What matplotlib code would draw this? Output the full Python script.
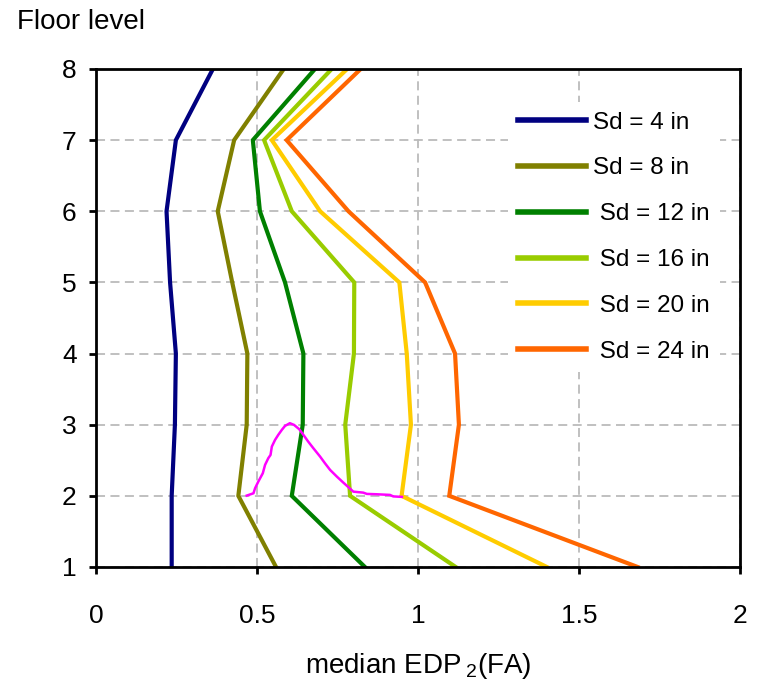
import matplotlib
matplotlib.use("Agg")
import matplotlib.pyplot as plt

plt.rcParams['font.family'] = ['Liberation Sans', 'DejaVu Sans']
plt.rcParams['mathtext.fontset'] = 'custom'
plt.rcParams['mathtext.rm'] = 'Liberation Sans'

floors = [1, 2, 3, 4, 5, 6, 7, 8]

sd_labels = ["Sd = 4 in", "Sd = 8 in", " Sd = 12 in", " Sd = 16 in", " Sd = 20 in", " Sd = 24 in"]
sd_colors = ["#000080", "#808000", "#008000", "#99cc00", "#ffcc00", "#ff6600"]

sd4 = [0.235, 0.235, 0.245, 0.248, 0.230, 0.219, 0.248, 0.363]
sd8 = [0.559, 0.442, 0.468, 0.470, 0.423, 0.378, 0.429, 0.583]
sd12 = [0.835, 0.608, 0.642, 0.644, 0.587, 0.509, 0.487, 0.680]
sd16 = [1.117, 0.789, 0.774, 0.801, 0.802, 0.608, 0.522, 0.732]
sd20 = [1.400, 0.949, 0.978, 0.965, 0.942, 0.696, 0.546, 0.780]
sd24 = [1.682, 1.097, 1.127, 1.115, 1.022, 0.784, 0.592, 0.822]

# magenta distribution curve around floors 2-3
dist_x = [0.468, 0.489, 0.494, 0.504, 0.518, 0.525, 0.535, 0.542, 0.546, 0.556,
          0.566, 0.577, 0.587, 0.602, 0.615, 0.631, 0.644, 0.659, 0.675, 0.696,
          0.711, 0.727, 0.748, 0.768, 0.784, 0.799, 0.830, 0.841, 0.872, 0.913,
          0.923, 0.950]
dist_y = [2.003, 2.036, 2.107, 2.200, 2.318, 2.435, 2.529, 2.575, 2.692, 2.786,
          2.857, 2.927, 2.983, 3.021, 2.997, 2.937, 2.857, 2.762, 2.669, 2.551,
          2.458, 2.364, 2.270, 2.186, 2.121, 2.059, 2.045, 2.027, 2.022, 2.013,
          1.992, 1.985]

x_ticks = [0, 0.5, 1, 1.5, 2]
x_tick_labels = ["0", "0.5", "1", "1.5", "2"]

fig = plt.figure(figsize=(7.59, 6.85), dpi=100)
ax = fig.add_axes([0.1265, 0.1723, 0.975 - 0.1265, 0.8993 - 0.1723])

series = [sd4, sd8, sd12, sd16, sd20, sd24]
for vals, lab, col in zip(series, sd_labels, sd_colors):
    ax.plot(vals, floors, color=col, lw=3, label=lab, solid_joinstyle='miter')

ax.plot(dist_x, dist_y, color="#ff00ff", lw=1.8)

ax.set_xlim(0, 2)
ax.set_ylim(1, 8)
ax.set_xticks(x_ticks)
ax.set_xticklabels(x_tick_labels)
ax.set_yticks(floors)
ax.grid(True, color="#bbbbbb", linestyle=(0, (5, 3)), lw=1.3)
ax.set_axisbelow(True)
for s in ax.spines.values():
    s.set_linewidth(2)
    s.set_color("black")
ax.tick_params(direction='out', length=5, width=2, labelsize=19)
ax.tick_params(axis='y', pad=9)
ax.tick_params(axis='x', pad=22)

ax.set_xlabel(r"median EDP$\,_{\mathregular{2}}$(FA)", fontsize=20, labelpad=16)
fig.text(0.022, 0.968, "Floor level", fontsize=20, ha='left', va='center')

leg = ax.legend(loc='upper left', bbox_to_anchor=(0.640, 0.934), fontsize=17.5,
                frameon=True, facecolor='white', edgecolor='none', framealpha=1,
                handlelength=2.8, labelspacing=0.98, handletextpad=0.3,
                borderpad=0.4, borderaxespad=0)
for h in leg.get_lines():
    h.set_linewidth(4)

fig.savefig("out.png", dpi=100)
